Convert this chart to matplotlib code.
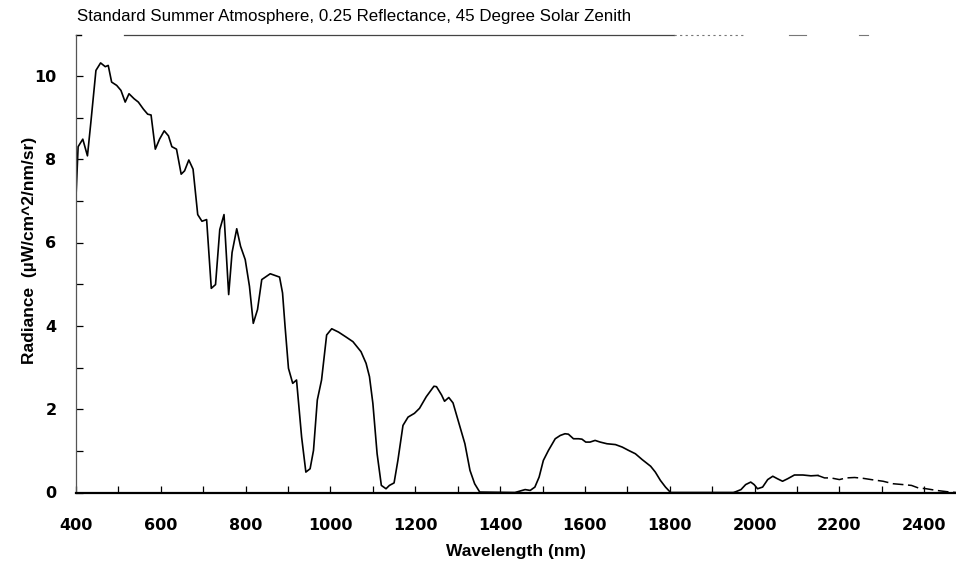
import matplotlib
matplotlib.use("Agg")
import matplotlib.pyplot as plt
import numpy as np

plt.rcParams['font.family'] = ['Liberation Sans', 'DejaVu Sans']

# 讀圖估計的數值
wavelength = [400, 405, 416, 427, 435, 447, 458, 469, 476, 484, 496, 506, 516, 525, 537,
              547, 559, 569, 577, 587, 597, 608, 618, 626, 637, 648, 656, 666, 676, 687,
              697, 708, 719, 729, 739, 749, 760, 768, 779, 788, 799, 809, 818, 828, 838,
              858, 880, 887, 893, 901, 911, 920, 932, 942, 952, 960, 969, 979, 991, 1003,
              1019, 1037, 1053, 1072, 1084, 1092, 1100, 1110, 1120, 1131, 1139, 1150, 1159,
              1171, 1183, 1198, 1210, 1226, 1244, 1250, 1262, 1269, 1279, 1289, 1301, 1317,
              1329, 1340, 1352, 1435, 1459, 1471, 1482, 1492, 1502, 1514, 1530, 1542, 1553,
              1561, 1573, 1585, 1593, 1602, 1612, 1624, 1636, 1652, 1672, 1688, 1703, 1719,
              1735, 1755, 1766, 1778, 1790, 1802, 1950, 1956, 1968, 1979, 1991, 1999, 2007,
              2019, 2031, 2043, 2054, 2066, 2078, 2094, 2114, 2133, 2149, 2165, 2180, 2200,
              2216, 2236, 2256, 2275, 2303, 2327, 2350, 2370, 2386, 2405, 2429, 2453, 2475]
radiance = [7.1, 8.3, 8.48, 8.08, 8.88, 10.13, 10.31, 10.22, 10.25, 9.85, 9.77, 9.65, 9.37,
            9.57, 9.45, 9.37, 9.2, 9.08, 9.06, 8.24, 8.48, 8.68, 8.56, 8.3, 8.24, 7.64, 7.72,
            7.98, 7.76, 6.67, 6.51, 6.55, 4.9, 4.99, 6.31, 6.67, 4.75, 5.76, 6.33, 5.91, 5.59,
            4.95, 4.06, 4.39, 5.11, 5.25, 5.17, 4.79, 3.98, 2.98, 2.62, 2.7, 1.33, 0.49, 0.57,
            1.01, 2.22, 2.7, 3.78, 3.93, 3.85, 3.73, 3.62, 3.38, 3.1, 2.78, 2.14, 0.93, 0.17,
            0.09, 0.17, 0.23, 0.77, 1.61, 1.81, 1.9, 2.02, 2.3, 2.55, 2.54, 2.34, 2.19, 2.28,
            2.15, 1.73, 1.17, 0.53, 0.21, 0.01, 0.0, 0.07, 0.05, 0.13, 0.37, 0.77, 1.01, 1.29,
            1.37, 1.41, 1.40, 1.29, 1.29, 1.28, 1.21, 1.21, 1.25, 1.21, 1.17, 1.15, 1.09, 1.01,
            0.93, 0.79, 0.63, 0.49, 0.29, 0.13, 0.0, 0.0, 0.02, 0.07, 0.19, 0.25, 0.19, 0.09,
            0.13, 0.31, 0.39, 0.33, 0.27, 0.33, 0.42, 0.42, 0.40, 0.41, 0.35, 0.35, 0.31, 0.35,
            0.36, 0.34, 0.31, 0.27, 0.21, 0.19, 0.17, 0.11, 0.09, 0.05, 0.02, 0.0]
x_labels = [400, 600, 800, 1000, 1200, 1400, 1600, 1800, 2000, 2200, 2400]
y_labels = [0, 2, 4, 6, 8, 10]

wl = np.array(wavelength)
rad = np.array(radiance)

fig = plt.figure(figsize=(9.56, 5.67), dpi=100)
ax = fig.add_axes([76 / 956, 1 - 492.5 / 567, 880 / 956, 457.5 / 567])

# 前段實線, 2150以後掃描檔看起來是虛線
solid = wl <= 2160
ax.plot(wl[solid], rad[solid], color='black', lw=1.2)
tail = wl >= 2149
ax.plot(wl[tail], rad[tail], color='black', lw=1.1, linestyle=(0, (7, 3)))

ax.set_xlim(400, 2475)
ax.set_ylim(0, 10.98)

ax.set_xticks(x_labels)
ax.set_xticks(np.arange(500, 2500, 200), minor=True)
ax.set_yticks(y_labels)
ax.set_yticks(np.arange(1, 11, 2), minor=True)
ax.tick_params(which='both', direction='in', length=5, width=0.9, color='black')
ax.tick_params(axis='x', which='major', pad=18)
ax.tick_params(axis='y', which='major', pad=14)
# 數字用比較寬的字型
for t in ax.get_xticklabels() + ax.get_yticklabels():
    t.set_fontweight('bold')
    t.set_fontfamily('DejaVu Sans')
    t.set_fontsize(11.5)

ax.spines['right'].set_visible(False)
ax.spines['top'].set_visible(False)
ax.spines['left'].set_color('#555555')
ax.spines['left'].set_linewidth(0.9)
ax.spines['bottom'].set_linewidth(1.6)

# 上框線 (原圖斷斷續續)
ax.axhline(10.98, xmin=0.0, xmax=0.006, color='black', lw=1.0, clip_on=False)
ax.axhline(10.98, xmin=0.055, xmax=0.68, color='#444444', lw=0.9, clip_on=False)
ax.axhline(10.98, xmin=0.68, xmax=0.76, color='#777777', lw=0.8,
           linestyle=(0, (2, 3)), clip_on=False)
ax.axhline(10.98, xmin=0.81, xmax=0.83, color='#777777', lw=0.8, clip_on=False)
ax.axhline(10.98, xmin=0.89, xmax=0.9, color='#777777', lw=0.8, clip_on=False)

ax.set_xlabel('Wavelength (nm)', fontsize=12.5, fontweight='bold')
ax.set_ylabel('Radiance  (\u00b5W/cm^2/nm/sr)', fontsize=12.5, fontweight='bold')
ax.xaxis.set_label_coords(0.5, -0.113)
ax.yaxis.set_label_coords(-0.044, 0.53)
fig.text(77 / 956, 1 - 16 / 567, 'Standard Summer Atmosphere, 0.25 Reflectance, 45 Degree Solar Zenith',
         fontsize=12.2, ha='left', va='center')

fig.savefig('out.png', dpi=100)
